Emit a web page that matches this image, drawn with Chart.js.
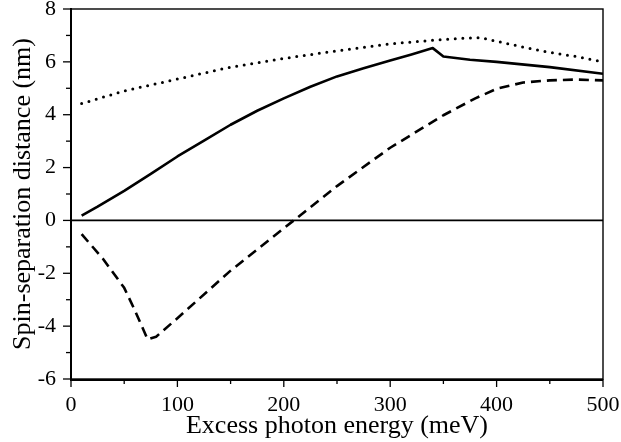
<!DOCTYPE html>
<html>
<head>
<meta charset="utf-8">
<script src="https://cdn.jsdelivr.net/npm/chart.js@4/dist/chart.umd.min.js"></script>
<style>
  html, body { margin: 0; padding: 0; background: #fff; }
  #wrap { width: 621px; height: 442px; }
</style>
</head>
<body>
<div id="wrap"><canvas id="spinChart" width="621" height="442"></canvas></div>
<script>
// Values (meV, nm)
const solidEnergy = [10, 25, 50, 75, 100, 125, 150, 175, 200, 225, 250, 275, 300, 320, 340, 350, 375, 400, 450, 500];
const solidDist = [0.18, 0.52, 1.12, 1.76, 2.42, 3.02, 3.62, 4.15, 4.62, 5.06, 5.45, 5.76, 6.05, 6.28, 6.52, 6.2, 6.08, 6.0, 5.8, 5.55];

const dottedEnergy = [10, 50, 100, 150, 200, 250, 300, 350, 370, 385, 400, 425, 450, 475, 500];
const dottedDist = [4.42, 4.9, 5.35, 5.8, 6.13, 6.42, 6.68, 6.85, 6.9, 6.92, 6.78, 6.56, 6.36, 6.2, 6.0];

const dashedEnergy = [10, 30, 50, 60, 72, 80, 100, 150, 200, 250, 300, 350, 380, 400, 425, 450, 475, 500];
const dashedDist = [-0.52, -1.45, -2.55, -3.4, -4.5, -4.4, -3.7, -1.9, -0.3, 1.3, 2.75, 3.98, 4.62, 4.98, 5.22, 5.3, 5.33, 5.3];

const xMajorTicks = [0, 100, 200, 300, 400, 500];
const yMajorTicks = [-6, -4, -2, 0, 2, 4, 6, 8];

function toPoints(xs, ys) {
    return xs.map((x, i) => ({ x: x, y: ys[i] }));
}

// Frame + outward ticks on the left and bottom axes
const framePlugin = {
    id: "frame",
    afterDatasetsDraw(chart) {
        const { ctx, chartArea: a, scales } = chart;
        const xs = scales.x, ys = scales.y;
        ctx.save();
        ctx.strokeStyle = "#000";
        ctx.lineWidth = 1.3;
        for (let v = 0; v <= 500; v += 50) {
            const px = xs.getPixelForValue(v);
            const len = v % 100 === 0 ? 8 : 5;
            ctx.beginPath();
            ctx.moveTo(px, a.bottom); ctx.lineTo(px, a.bottom + len);
            ctx.stroke();
        }
        for (let v = -6; v <= 8; v += 1) {
            const py = ys.getPixelForValue(v);
            const len = v % 2 === 0 ? 8 : 5;
            ctx.beginPath();
            ctx.moveTo(a.left, py); ctx.lineTo(a.left - len, py);
            ctx.stroke();
        }
        ctx.lineWidth = 1.4;
        ctx.strokeRect(a.left, a.top, a.right - a.left, a.bottom - a.top);
        ctx.lineWidth = 2;
        ctx.beginPath();
        ctx.moveTo(a.left, a.top - 1); ctx.lineTo(a.left, a.bottom + 1);
        ctx.lineTo(a.right, a.bottom + 1);
        ctx.stroke();
        ctx.restore();
    }
};

const serif = "'Liberation Serif', 'DejaVu Serif', serif";

new Chart(document.getElementById("spinChart").getContext("2d"), {
    type: "line",
    data: {
        datasets: [
            {
                label: "zero",
                data: toPoints([0, 500], [0, 0]),
                borderColor: "#000",
                borderWidth: 1.8,
                pointRadius: 0
            },
            {
                label: "solid",
                data: toPoints(solidEnergy, solidDist),
                borderColor: "#000",
                borderWidth: 2.6,
                borderJoinStyle: "round",
                pointRadius: 0
            },
            {
                label: "dotted",
                data: toPoints(dottedEnergy, dottedDist),
                borderColor: "#000",
                borderWidth: 3,
                borderDash: [0, 7.6],
                borderCapStyle: "round",
                pointRadius: 0
            },
            {
                label: "dashed",
                data: toPoints(dashedEnergy, dashedDist),
                borderColor: "#000",
                borderWidth: 2.6,
                borderJoinStyle: "round",
                borderDash: [10, 6],
                pointRadius: 0
            }
        ]
    },
    options: {
        responsive: false,
        animation: false,
        layout: { padding: { top: 9, right: 18, left: 0, bottom: 0 } },
        plugins: {
            legend: { display: false },
            tooltip: { enabled: false }
        },
        scales: {
            x: {
                type: "linear",
                min: 0,
                max: 500,
                afterFit(scale) {
                    scale.height = 63;
                    scale.paddingLeft = 0;
                    scale.paddingRight = 0;
                },
                afterBuildTicks(scale) { scale.ticks = xMajorTicks.map(v => ({ value: v })); },
                grid: { display: false, drawTicks: false },
                border: { display: false },
                ticks: {
                    color: "#000",
                    padding: 13,
                    maxRotation: 0,
                    font: { family: serif, size: 22 }
                },
                title: {
                    display: true,
                    text: "Excess photon energy (meV)",
                    color: "#000",
                    padding: { top: 0, bottom: 0 },
                    font: { family: serif, size: 26 }
                }
            },
            y: {
                type: "linear",
                min: -6,
                max: 8,
                afterFit(scale) {
                    scale.width = 71;
                    scale.paddingTop = 0;
                    scale.paddingBottom = 0;
                },
                afterBuildTicks(scale) { scale.ticks = yMajorTicks.map(v => ({ value: v })); },
                grid: { display: false, drawTicks: false },
                border: { display: false },
                ticks: {
                    color: "#000",
                    padding: 15,
                    font: { family: serif, size: 22 }
                },
                title: {
                    display: true,
                    text: "Spin-separation distance (nm)",
                    color: "#000",
                    padding: { top: 8, bottom: 0 },
                    font: { family: serif, size: 26 }
                }
            }
        }
    },
    plugins: [framePlugin]
});
</script>
</body>
</html>
